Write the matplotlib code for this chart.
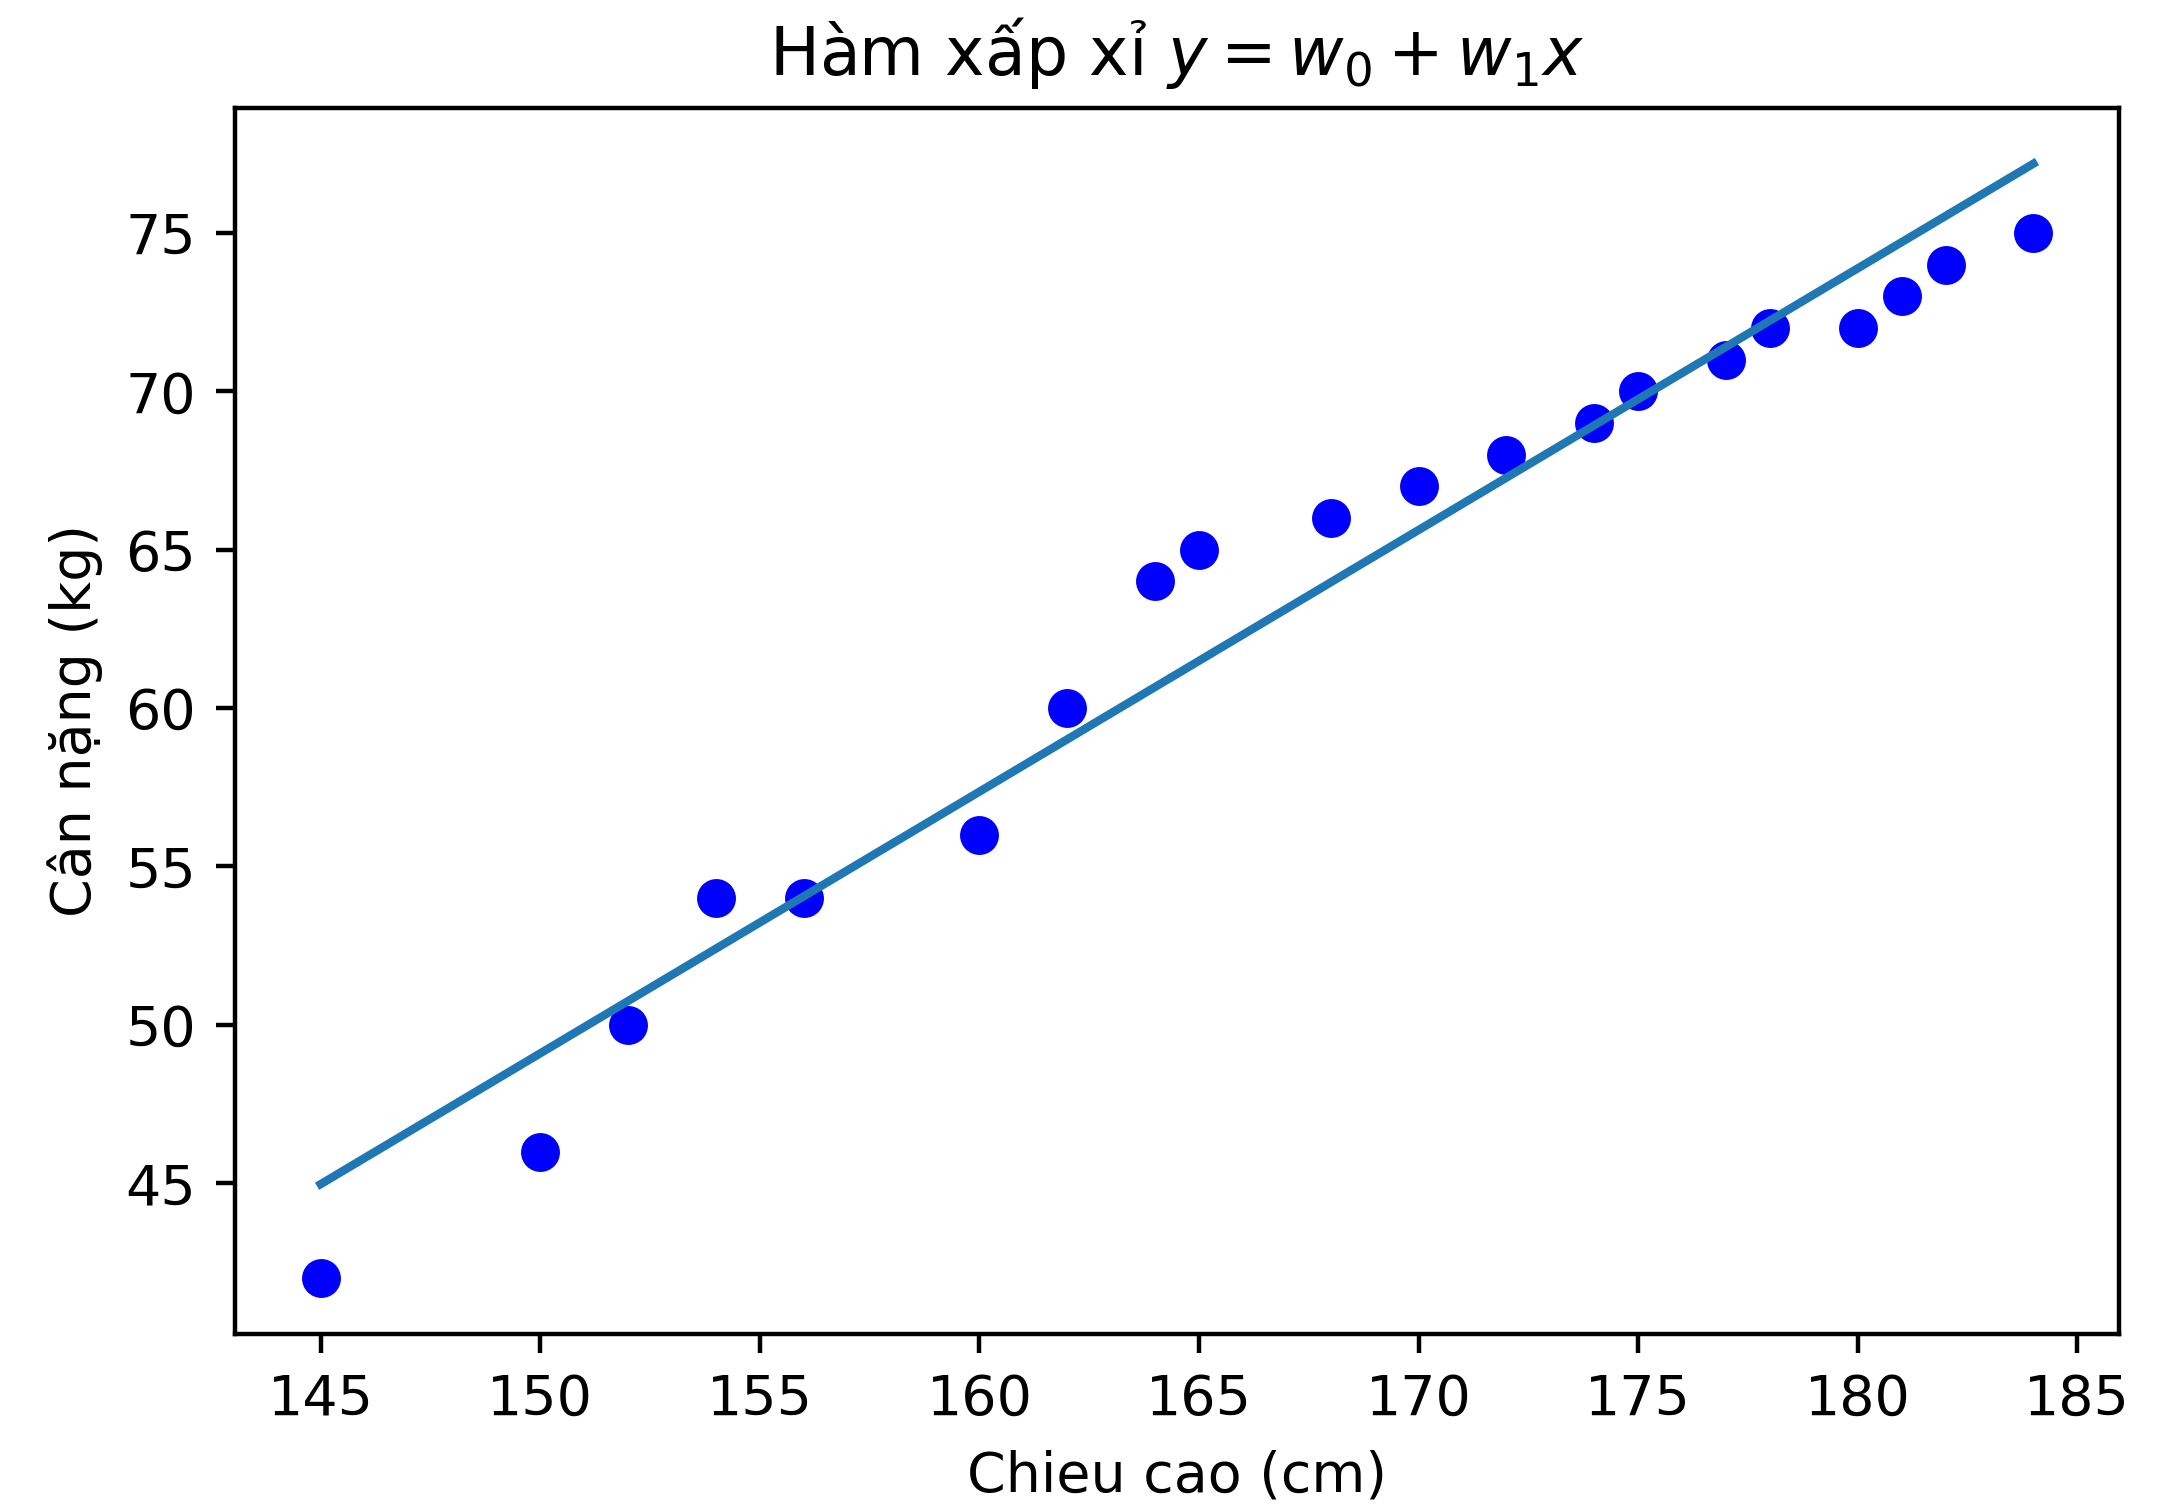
import numpy as np
import matplotlib
matplotlib.use("Agg")
import matplotlib.pyplot as plt

# Chiều cao (cm) và cân nặng (kg)
heights = [145, 150, 152, 154, 156, 160, 162, 164, 165, 168,
           170, 172, 174, 175, 177, 178, 180, 181, 182, 184]
weights = [42, 46, 50, 54, 54, 56, 60, 64, 65, 66,
           67, 68, 69, 70, 71, 72, 72, 73, 74, 75]

# Hệ số của hàm xấp xỉ y = w0 + w1*x
w0 = -74.83
w1 = 0.8262

x_line = np.array([min(heights), max(heights)], dtype=float)
y_line = w0 + w1 * x_line

DPI = 400
fig = plt.figure(figsize=(2166 / DPI, 1510 / DPI), dpi=DPI)
ax = fig.add_axes([0.1085, 0.1166, 0.9783 - 0.1085, 0.9285 - 0.1166])

ax.plot(heights, weights, 'bo')
ax.plot(x_line, y_line)

ax.set_title('Hàm xấp xỉ $y = w_0 + w_1x$')
ax.set_xlabel('Chieu cao (cm)')
ax.set_ylabel('Cân nặng (kg)')

fig.savefig('out.png', dpi=DPI)
